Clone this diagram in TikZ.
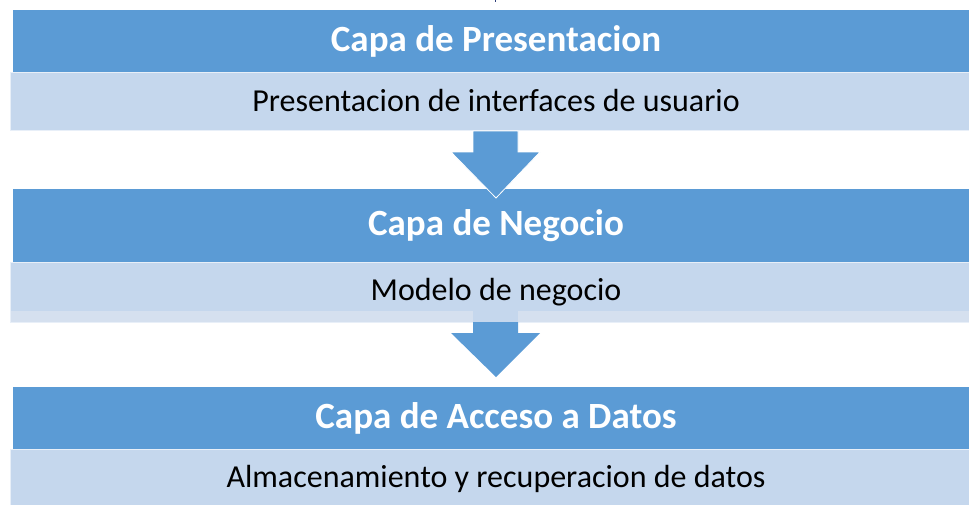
\documentclass[tikz,border=0pt]{standalone}
\usepackage{fontspec}
\setmainfont{Carlito}
\definecolor{azulOscuro}{HTML}{5B9BD5}
\definecolor{azulClaro}{HTML}{C5D7ED}
\definecolor{azulPalido}{HTML}{D5E0EF}
\definecolor{marino}{HTML}{2E3F7A}
\tikzset{
	capa/.style={fill=azulOscuro, draw=none, inner sep=0pt, minimum width=966pt, text=white, font=\fontsize{37}{44}\selectfont\bfseries},
	detalle/.style={fill=azulClaro, draw=white!60!azulClaro, line width=0.8pt, inner sep=0pt, minimum width=972pt, font=\fontsize{32}{38}\selectfont},
	flecha/.style={fill=azulOscuro, draw=white, line width=0.8pt}
}
\begin{document}
\begin{tikzpicture}[x=1pt, y=-1pt]
		\clip (0,0) rectangle (969,504);
		\fill[white] (0,0) rectangle (969,504);
		%resto de flecha arriba
		\draw[marino, line width=1pt] (495,0) -- (495,2);
		%presentacion
		\node[capa, minimum height=62pt] (capaPres) at (496,41) {Capa de Presentacion};
		\node[detalle, minimum height=58pt] (descPres) at (496,101) {Presentacion de interfaces de usuario};
		%negocio
		\node[capa, minimum height=73pt] (capaNeg) at (496,225.5) {Capa de Negocio};
		\node[detalle, minimum height=60pt] (descNeg) at (496,292) {};
		\fill[azulPalido] (11,311) rectangle (473,321.5);
		\fill[azulPalido] (518,311) rectangle (981,321.5);
		\node[font=\fontsize{32}{38}\selectfont] (txtNeg) at (496,292) {Modelo de negocio};
		%acceso a datos
		\node[capa, minimum height=62pt] (capaDatos) at (496,418) {Capa de Acceso a Datos};
		\node[detalle, minimum height=60pt] (descDatos) at (496,479) {Almacenamiento y recuperacion de datos};
		%flechas
		\filldraw[flecha] (473,131) -- (518,131) -- (518,152) -- (540,152) -- (496,198) -- (451,152) -- (473,152) -- cycle;
		\fill[azulOscuro] (473,322) -- (518,322) -- (518,333) -- (540,333) -- (496,377) -- (451,333) -- (473,333) -- cycle;
	\end{tikzpicture}
\end{document}
